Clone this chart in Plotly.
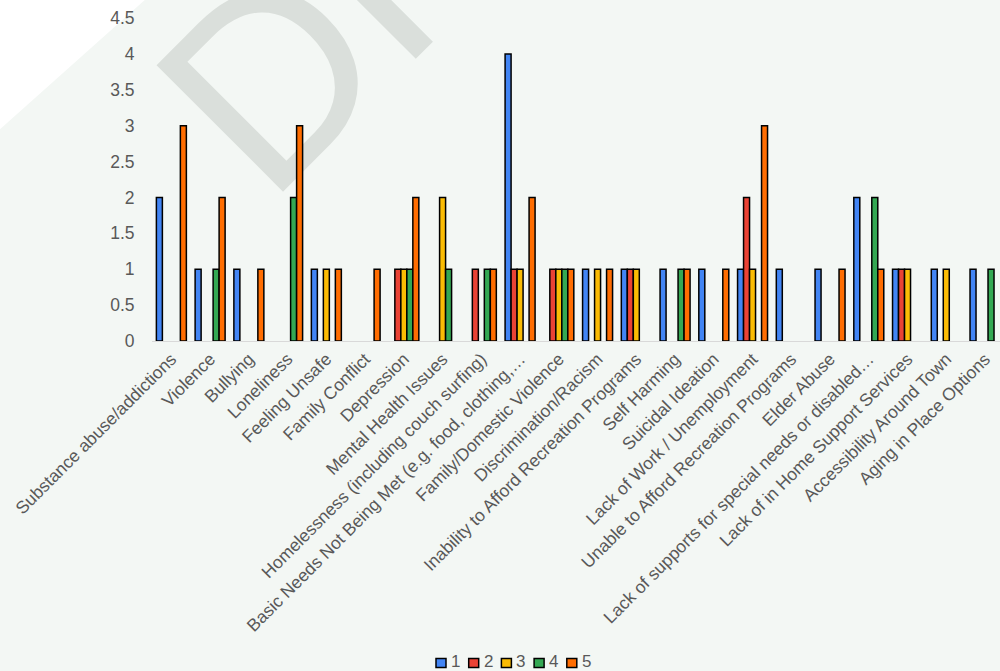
import plotly.graph_objects as go

categories = [
    "Substance abuse/addictions", "Violence", "Bullying", "Loneliness",
    "Feeling Unsafe", "Family Conflict", "Depression", "Mental Health Issues",
    "Homelessness (including couch surfing)",
    "Basic Needs Not Being Met (e.g. food, clothing,…",
    "Family/Domestic Violence", "Discrimination/Racism",
    "Inability to Afford Recreation Programs", "Self Harming",
    "Suicidal Ideation", "Lack of Work / Unemployment",
    "Unable to Afford Recreation Programs", "Elder Abuse",
    "Lack of supports for special needs or disabled…",
    "Lack of in Home Support Services", "Accessibility Around Town",
    "Aging in Place Options",
]
series_names = ["1", "2", "3", "4", "5"]
N = None
s1 = [2, 1, 1, N, 1, N, N, N, N, 4, N, 1, 1, 1, 1, 1, 1, 1, 2, 1, 1, 1]
s2 = [N, N, N, N, N, N, 1, N, 1, 1, 1, N, 1, N, N, 2, N, N, N, 1, N, N]
s3 = [N, N, N, N, 1, N, 1, 2, N, 1, 1, 1, 1, N, N, 1, N, N, N, 1, 1, N]
s4 = [N, 1, N, 2, N, N, 1, 1, 1, N, 1, N, N, 1, N, N, N, N, 2, N, N, 1]
s5 = [3, 2, 1, 3, 1, 1, 2, N, 1, 2, 1, 1, N, 1, 1, 3, N, 1, 1, N, N, N]
series_values = [s1, s2, s3, s4, s5]
colors = ["#4285F4", "#EA4335", "#FBBC04", "#34A853", "#FF6D01"]
y_ticks = [0, 0.5, 1, 1.5, 2, 2.5, 3, 3.5, 4, 4.5]

W, H = 1000, 671
L_M, R_M, T_M, B_M = 152, 0, 18, 330
PW = W - L_M - R_M
PH = H - T_M - B_M


def px_x(px):
    return (px - L_M) / PW


def px_y(py):
    return (H - B_M - py) / PH


FONT = "Liberation Sans, Arial, sans-serif"
TXT = "#595959"
FS = 17.5

fig = go.Figure()
for name, vals, col in zip(series_names, series_values, colors):
    fig.add_trace(go.Bar(
        x=categories, y=vals, name=name,
        marker=dict(color=col, line=dict(color="#000000", width=1.5)),
        showlegend=False,
    ))

shapes = []
# white corner triangle
shapes.append(dict(
    type="path", xref="paper", yref="paper", layer="below",
    path=f"M {px_x(-2)},{px_y(-2)} L {px_x(147)},{px_y(-2)} L {px_x(-2)},{px_y(131)} Z",
    fillcolor="#ffffff", line=dict(width=0),
))
# watermark
cx, cy = 493, -181
shapes.append(dict(
    type="rect", xref="paper", yref="paper", layer="below",
    x0=px_x(cx - 5), x1=px_x(cx + 5), y0=px_y(cy + 5), y1=px_y(cy - 5),
    line=dict(width=0), fillcolor="rgba(0,0,0,0)",
    label=dict(text="DRAFT", textangle=-45, textposition="middle center",
               font=dict(family=FONT, size=260, color="#dadfdb")),
))

annotations = []
# manual legend
for k, (name, col) in enumerate(zip(series_names, colors)):
    x0 = 436 + 32.7 * k
    shapes.append(dict(
        type="rect", xref="paper", yref="paper",
        x0=px_x(x0), x1=px_x(x0 + 10), y0=px_y(667.5), y1=px_y(658.5),
        fillcolor=col, line=dict(color="#000000", width=1.5),
    ))
    annotations.append(dict(
        x=px_x(x0 + 13), y=px_y(661.5), xref="paper", yref="paper",
        text=name, showarrow=False, xanchor="left", yanchor="middle",
        font=dict(family=FONT, size=17, color=TXT),
    ))

fig.update_layout(
    width=W, height=H,
    margin=dict(l=L_M, r=R_M, t=T_M, b=B_M, autoexpand=False),
    paper_bgcolor="#f3f7f4", plot_bgcolor="rgba(0,0,0,0)",
    barmode="group", bargap=0.226, bargroupgap=0,
    shapes=shapes, annotations=annotations,
    showlegend=False,
    font=dict(family=FONT, size=FS, color=TXT),
    xaxis=dict(
        type="category", range=[-0.5, 21.5 - 4.4 / 38.76],
        showline=True, linecolor="#d9d9d9", linewidth=1,
        showgrid=False, zeroline=False, tickangle=-45,
        ticks="", tickfont=dict(family=FONT, size=FS, color=TXT),
        automargin=False,
    ),
    yaxis=dict(
        range=[0, 4.5], tickvals=y_ticks, ticktext=[f"{v:g}" for v in y_ticks],
        showgrid=False, zeroline=False, showline=False,
        ticks="outside", ticklen=13, tickcolor="rgba(0,0,0,0)",
        tickfont=dict(family=FONT, size=FS, color=TXT),
        automargin=False,
    ),
)

fig.write_html(
    "out.html",
    config={"displayModeBar": False},
    post_script="document.body.style.margin='0px';document.body.style.overflow='hidden';",
)
